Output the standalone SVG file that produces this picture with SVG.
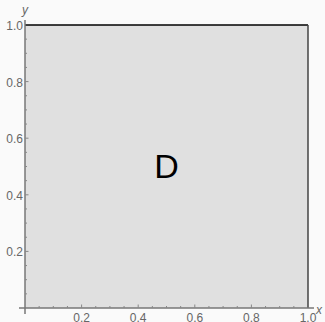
<svg xmlns="http://www.w3.org/2000/svg" width="325" height="322" viewBox="0 0 325 322">
<style>
.tl{font-family:"Liberation Sans",Arial,sans-serif;font-size:12px;fill:#666}
.ax{font-family:"Liberation Sans",Arial,sans-serif;font-size:12px;fill:#666;font-style:italic}
.tk{stroke:#888;stroke-width:1}
</style>
<rect width="325" height="322" fill="#fafafa"/>
<g id="region">
<rect x="25" y="25" width="283" height="283" fill="#e0e0e0"/>
<line x1="25" y1="25" x2="308" y2="25" stroke="#000" stroke-width="1.5"/>
<line x1="308" y1="25" x2="308" y2="308" stroke="#444" stroke-width="1.5"/>
<text x="166.5" y="177.5" text-anchor="middle" font-family="'Liberation Sans',Arial,sans-serif" font-size="34" fill="#000">D</text>
</g>
<g id="axes">
<line x1="19" y1="308" x2="314" y2="308" stroke="#777" stroke-width="1.5"/>
<line x1="25" y1="314" x2="25" y2="20" stroke="#777" stroke-width="1.5"/>
<g class="tk">
<path d="M39.15 308v-2M53.3 308v-2M67.45 308v-2M81.6 308v-3.5M95.75 308v-2M109.9 308v-2M124.05 308v-2M138.2 308v-3.5M152.35 308v-2M166.5 308v-2M180.65 308v-2M194.8 308v-3.5M208.95 308v-2M223.1 308v-2M237.25 308v-2M251.4 308v-3.5M265.55 308v-2M279.7 308v-2M293.85 308v-2"/>
<path d="M25 293.85h2M25 279.7h2M25 265.55h2M25 251.4h3.5M25 237.25h2M25 223.1h2M25 208.95h2M25 194.8h3.5M25 180.65h2M25 166.5h2M25 152.35h2M25 138.2h3.5M25 124.05h2M25 109.9h2M25 95.75h2M25 81.6h3.5M25 67.45h2M25 53.3h2M25 39.15h2"/>
</g>
<text class="tl" x="81.6" y="321.5" text-anchor="middle">0.2</text>
<text class="tl" x="138.2" y="321.5" text-anchor="middle">0.4</text>
<text class="tl" x="194.8" y="321.5" text-anchor="middle">0.6</text>
<text class="tl" x="251.4" y="321.5" text-anchor="middle">0.8</text>
<text class="tl" x="308" y="321.5" text-anchor="middle">1.0</text>
<text class="tl" x="23" y="256.4" text-anchor="end">0.2</text>
<text class="tl" x="23" y="199.8" text-anchor="end">0.4</text>
<text class="tl" x="23" y="143.2" text-anchor="end">0.6</text>
<text class="tl" x="23" y="86.6" text-anchor="end">0.8</text>
<text class="tl" x="23" y="30" text-anchor="end">1.0</text>
<text class="ax" x="316" y="314">x</text>
<text class="ax" x="22" y="14">y</text>
</g>
</svg>
